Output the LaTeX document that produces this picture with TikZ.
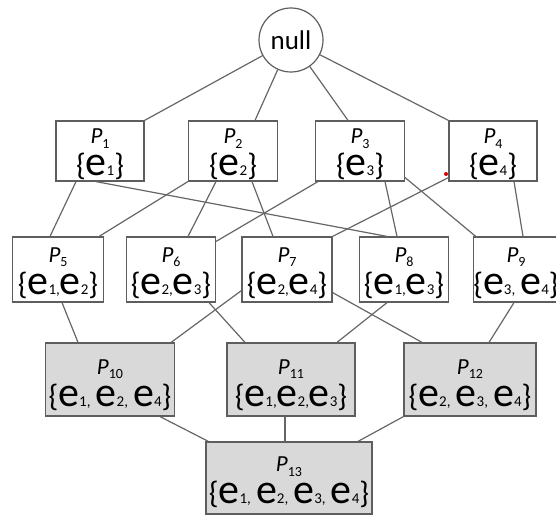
\documentclass[tikz,border=0pt]{standalone}
\usepackage{fontspec}
\setmainfont{Carlito}
\usepackage{tikz}

\definecolor{boxgray}{HTML}{5E5E5E}
\definecolor{linegray}{HTML}{666666}
\definecolor{lowfill}{HTML}{D9D9D9}

% P with its index, and an element e with its index
\newcommand{\pname}[1]{{\fontsize{23}{23}\selectfont\textit{P}\raisebox{-4.5pt}{\fontsize{14}{14}\selectfont #1}}}
\newcommand{\setel}[1]{{\fontsize{42}{32}\selectfont e}{\fontsize{15}{15}\selectfont #1}}

\begin{document}
\begin{tikzpicture}[x=1pt,y=-1pt,
  set/.style={draw=boxgray,line width=1.2pt,inner sep=0pt,align=center,font=\fontsize{31}{32}\selectfont},
  top/.style={set,minimum width=#1,minimum height=60pt},
  mid/.style={set,minimum width=#1,minimum height=65pt},
  low/.style={set,fill=lowfill,minimum width=#1,minimum height=73pt},
  edge/.style={draw=linegray,line width=1.2pt}]
  \useasboundingbox (0,0) rectangle (556,516);

  \node[circle,draw=boxgray,line width=1.2pt,minimum size=64pt,inner sep=0pt,font=\fontsize{27}{27}\selectfont] (null) at (291,40) {null};

  % one element
  \node[top=88pt] (p1) at (100,151) {\rule{0pt}{22pt}\pname{1}\\\{\setel{1}\}};
  \node[top=89pt] (p2) at (233,151) {\rule{0pt}{22pt}\pname{2}\\\{\setel{2}\}};
  \node[top=89pt] (p3) at (360,151) {\rule{0pt}{22pt}\pname{3}\\\{\setel{3}\}};
  \node[top=88pt] (p4) at (493,151) {\rule{0pt}{22pt}\pname{4}\\\{\setel{4}\}};

  % two elements
  \node[mid=91pt] (p5) at (58,269.5) {\rule{0pt}{22pt}\pname{5}\\\{\setel{1,}\setel{2}\}};
  \node[mid=89pt] (p6) at (171,269.5) {\rule{0pt}{22pt}\pname{6}\\\{\setel{2,}\setel{3}\}};
  \node[mid=90pt] (p7) at (287,269.5) {\rule{0pt}{22pt}\pname{7}\\\{\setel{2,}\setel{4}\}};
  \node[mid=89pt] (p8) at (404,269.5) {\rule{0pt}{22pt}\pname{8}\\\{\setel{1,}\setel{3}\}};
  \node[mid=84pt] (p9) at (516,269.5) {\rule{0pt}{22pt}\pname{9}\\\{\setel{3,}\,\setel{4}\}};

  % three and four elements
  \node[low=129pt] (p10) at (110,379.5) {\rule{0pt}{26pt}\pname{10}\\\{\setel{1,}\,\setel{2,}\,\setel{4}\}};
  \node[low=128pt] (p11) at (291,379.5) {\rule{0pt}{26pt}\pname{11}\\\{\setel{1,}\setel{2,}\setel{3}\}};
  \node[low=132pt] (p12) at (470,379.5) {\rule{0pt}{26pt}\pname{12}\\\{\setel{2,}\,\setel{3,}\,\setel{4}\}};
  \node[low=166pt,minimum height=72pt] (p13) at (289,478) {\rule{0pt}{24pt}\pname{13}\\\{\setel{1,}\,\setel{2,}\,\setel{3,}\,\setel{4}\}};

  \fill[red!85!black] (446,174) circle (2pt);

  \draw[edge] (null) -- (p1.north east);
  \draw[edge] (null) -- ([xshift=22pt]p2.north);
  \draw[edge] (null) -- ([xshift=-12pt]p3.north);
  \draw[edge] (null) -- (p4.north west);

  \draw[edge] ([xshift=-24pt]p1.south) -- ([xshift=-8pt]p5.north);
  \draw[edge] ([xshift=-4pt]p1.south) -- ([xshift=-17pt]p8.north);
  \draw[edge] (p2.south west) -- ([xshift=-5pt]p5.north east);
  \draw[edge] ([xshift=-17pt]p2.south) -- ([xshift=17pt]p6.north);
  \draw[edge] ([xshift=19pt]p2.south) -- ([xshift=-14pt]p7.north);
  \draw[edge] ([xshift=3pt]p3.south west) -- ([yshift=-5pt]p6.north east);
  \draw[edge] ([xshift=25pt]p3.south) -- ([xshift=-7pt]p8.north);
  \draw[edge] ([yshift=4pt]p3.south east) -- ([xshift=3pt]p9.north west);
  \draw[edge] ([yshift=4pt]p4.south west) -- (p7.north east);
  \draw[edge] ([xshift=21pt]p4.south) -- ([xshift=7pt]p9.north);

  \draw[edge] ([xshift=4pt]p5.south) -- ([xshift=-32pt]p10.north);
  \draw[edge] ([yshift=12pt]p7.south west) -- ([xshift=-4pt]p10.north east);
  \draw[edge] ([xshift=38pt]p6.south) -- ([xshift=-46pt]p11.north);
  \draw[edge] ([xshift=-17pt]p8.south) -- ([xshift=46pt]p11.north);
  \draw[edge] ([yshift=10pt]p7.south east) -- ([xshift=-48pt]p12.north);
  \draw[edge] ([xshift=-2pt]p9.south) -- ([xshift=19pt]p12.north);

  \draw[edge] ([xshift=50pt]p10.south) -- ([xshift=3pt]p13.north west);
  \draw[edge] ([xshift=-6pt]p11.south) -- ([xshift=-4pt]p13.north);
  \draw[edge] (p12.south west) -- ([xshift=69pt]p13.north);
\end{tikzpicture}
\end{document}
